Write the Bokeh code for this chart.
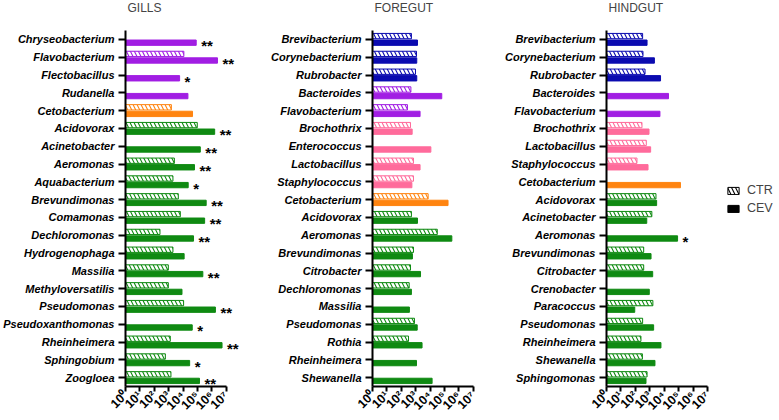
from math import pi

from bokeh.core.properties import value
from bokeh.embed import file_html
from bokeh.layouts import row
from bokeh.models import (ColumnDataSource, FactorRange, FixedTicker, LabelSet,
                          Legend, LegendItem, Range1d, Title)
from bokeh.plotting import figure
from bokeh.resources import INLINE
from bokeh.transform import dodge

nan = float("nan")

# ---- GILLS: mean abundance per genus, control (CTR) vs treated (CEV) ----
gills_genera = ["Chryseobacterium", "Flavobacterium", "Flectobacillus", "Rudanella",
                "Cetobacterium", "Acidovorax", "Acinetobacter", "Aeromonas",
                "Aquabacterium", "Brevundimonas", "Comamonas", "Dechloromonas",
                "Hydrogenophaga", "Massilia", "Methyloversatilis", "Pseudomonas",
                "Pseudoxanthomonas", "Rheinheimera", "Sphingobium", "Zoogloea"]
gills_group = ["Bacteroidetes"] * 4 + ["Fusobacteria"] + ["Proteobacteria"] * 15
gills_ctr = [nan, 1.15e4, nan, nan, 1.55e3, 9.8e4, nan, 2.5e3, 2.0e3, 4.7e3,
             6.5e3, 250, 2.0e3, 950, 950, 1.1e4, nan, 1.3e3, 590, 1.45e3]
gills_cev = [8.3e4, 2.5e6, 5.8e3, 2.2e4, 4.6e4, 1.6e6, 1.6e5, 6.3e4, 2.3e4, 4.1e5,
             3.2e5, 5.4e4, 1.2e4, 2.4e5, 8.5e3, 1.8e6, 4.4e4, 5.2e6, 2.9e4, 1.4e5]
gills_sig = ["**", "**", "*", "", "", "**", "**", "**", "*", "**",
             "**", "**", "", "**", "", "**", "*", "**", "*", "**"]

# ---- FOREGUT ----
foregut_genera = ["Brevibacterium", "Corynebacterium", "Rubrobacter", "Bacteroides",
                  "Flavobacterium", "Brochothrix", "Enterococcus", "Lactobacillus",
                  "Staphylococcus", "Cetobacterium", "Acidovorax", "Aeromonas",
                  "Brevundimonas", "Citrobacter", "Dechloromonas", "Massilia",
                  "Pseudomonas", "Rothia", "Rheinheimera", "Shewanella"]
foregut_group = (["Actinobacteria"] * 3 + ["Bacteroidetes"] * 2 + ["Firmicutes"] * 4
                 + ["Fusobacteria"] + ["Proteobacteria"] * 10)
foregut_ctr = [510, 1150, 980, 470, 270, 440, nan, 710, 710, 7400,
               510, 3.2e4, 710, 440, 355, nan, 830, 320, nan, nan]
foregut_cev = [1350, 1200, 1200, 6.6e4, 2040, 575, 1.15e4, 2040, 550, 1.8e5,
               1350, 3.3e5, 600, 2190, 510, 370, 1290, 2800, 1150, 1.4e4]
foregut_sig = [""] * 20

# ---- HINDGUT ----
hindgut_genera = ["Brevibacterium", "Corynebacterium", "Rubrobacter", "Bacteroides",
                  "Flavobacterium", "Brochothrix", "Lactobacillus", "Staphylococcus",
                  "Cetobacterium", "Acidovorax", "Acinetobacter", "Aeromonas",
                  "Brevundimonas", "Citrobacter", "Crenobacter", "Paracoccus",
                  "Pseudomonas", "Rheinheimera", "Shewanella", "Sphingomonas"]
hindgut_group = (["Actinobacteria"] * 3 + ["Bacteroidetes"] * 2 + ["Firmicutes"] * 3
                 + ["Fusobacteria"] + ["Proteobacteria"] * 11)
hindgut_ctr = [320, 340, 470, nan, nan, 290, 575, 130, nan, 2700,
               1400, nan, 380, 380, nan, 1650, 320, 245, 310, 650]
hindgut_cev = [650, 2100, 5600, 2.0e4, 5100, 890, 1150, 760, 1.35e5, 3000,
               620, 8.5e4, 1230, 1600, 930, 91, 1860, 6000, 2300, 550]
hindgut_sig = [""] * 11 + ["*"] + [""] * 8

decade_ticks = [1, 10, 100, 1e3, 1e4, 1e5, 1e6, 1e7]
decade_labels = ["10⁰", "10¹", "10²", "10³", "10⁴", "10⁵", "10⁶", "10⁷"]

group_colors = {
    "Actinobacteria": "#0b0bb0",
    "Bacteroidetes": "#a11ee3",
    "Firmicutes": "#ff6b9b",
    "Fusobacteria": "#ff8410",
    "Proteobacteria": "#0f8a12",
}

FONT = "Liberation Sans"
PX_PER_DECADE = 14.4
BAR_H = 0.3
SHIFT = 0.185
HATCH = dict(hatch_pattern="\\", hatch_color="white", hatch_weight=2.5, hatch_scale=8)


def panel(title, genera, group, ctr, cev, sig, border_left, decades):
    src = ColumnDataSource(dict(
        genus=genera, ctr=ctr, cev=cev, sig=sig,
        color=[group_colors[g] for g in group],
    ))
    p = figure(
        y_range=FactorRange(factors=genera[::-1]),
        x_axis_type="log", x_range=Range1d(1, 10 ** decades),
        frame_width=round(PX_PER_DECADE * decades), frame_height=356,
        min_border_left=border_left, min_border_right=0,
        min_border_top=0, min_border_bottom=0,
        output_backend="svg", toolbar_location=None,
    )
    # spacer between the panel heading and the plot area
    p.add_layout(Title(text=" ", text_font_size="11px", standoff=0), "above")
    p.title.text = title
    p.title.text_font = FONT
    p.title.text_font_size = "12px"
    p.title.text_font_style = "normal"
    p.title.align = "left"
    p.title.vertical_align = "top"
    p.title.offset = 2
    p.title.standoff = 0

    p.hbar(y=dodge("genus", SHIFT, range=p.y_range), left=1, right="ctr",
           height=BAR_H, source=src, fill_color="color", line_color="color",
           line_width=1, **HATCH)
    p.hbar(y=dodge("genus", -SHIFT, range=p.y_range), left=1, right="cev",
           height=BAR_H, source=src, fill_color="color", line_color="color",
           line_width=1)
    p.add_layout(LabelSet(x="cev", y=dodge("genus", -SHIFT, range=p.y_range),
                          text="sig", source=src, x_offset=5, y_offset=-3,
                          text_font=value(FONT), text_font_style="bold",
                          text_font_size="15px", text_color="black",
                          text_baseline="middle"))

    p.grid.visible = False
    p.outline_line_color = None

    xa = p.xaxis[0]
    xa.ticker = FixedTicker(ticks=decade_ticks)
    xa.major_label_overrides = dict(zip(decade_ticks, decade_labels))
    xa.bounds = (1, 1e7)
    xa.axis_line_width = 2
    xa.major_tick_line_width = 2
    xa.major_tick_in = 0
    xa.major_tick_out = 5
    xa.minor_tick_line_color = None
    xa.major_label_orientation = pi / 4
    xa.major_label_standoff = 2
    xa.major_label_text_font = FONT
    xa.major_label_text_font_style = "bold"
    xa.major_label_text_font_size = "12.5px"
    xa.major_label_text_color = "black"

    ya = p.yaxis[0]
    ya.axis_line_width = 2
    ya.major_tick_line_width = 2
    ya.major_tick_in = 0
    ya.major_tick_out = 7
    ya.major_label_standoff = 4
    ya.major_label_text_font = FONT
    ya.major_label_text_font_style = "bold italic"
    ya.major_label_text_font_size = "11px"
    ya.major_label_text_color = "black"
    return p


p1 = panel("GILLS", gills_genera, gills_group, gills_ctr, gills_cev, gills_sig, 125, 8)
p2 = panel("FOREGUT", foregut_genera, foregut_group, foregut_ctr, foregut_cev, foregut_sig, 132, 8)
p3 = panel("HINDGUT", hindgut_genera, hindgut_group, hindgut_ctr, hindgut_cev, hindgut_sig, 119, 12)

# legend keys: black swatches, hatched for CTR and solid for CEV
key_src = ColumnDataSource(dict(y=[hindgut_genera[0]], right=[nan]))
r_ctr = p3.hbar(y="y", left=1, right="right", height=BAR_H, source=key_src,
                fill_color="black", line_color="black", **HATCH)
r_cev = p3.hbar(y="y", left=1, right="right", height=BAR_H, source=key_src,
                fill_color="black", line_color="black")
legend = Legend(items=[LegendItem(label="CTR", renderers=[r_ctr]),
                       LegendItem(label="CEV", renderers=[r_cev])],
                location=(120, 171), padding=0, spacing=4,
                glyph_width=14, glyph_height=9, label_standoff=7,
                label_text_font=FONT, label_text_font_size="12.5px",
                border_line_color=None, background_fill_alpha=0)
p3.add_layout(legend)

layout = row(p1, p2, p3)
open("out.html", "w").write(file_html(layout, INLINE))
